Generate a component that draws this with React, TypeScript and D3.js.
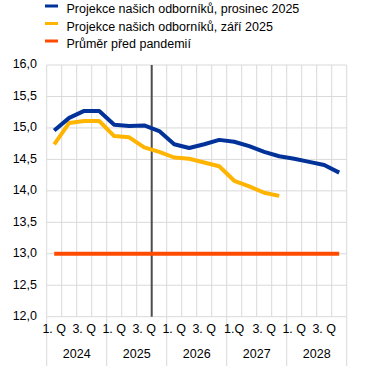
import React from "react";
import * as d3 from "d3";

// quarters 2024Q1 .. 2028Q4
const years = ["2024", "2025", "2026", "2027", "2028"];
const quarterTicks = [
  "1. Q", "", "3. Q", "",
  "1. Q", "", "3. Q", "",
  "1. Q", "", "3. Q", "",
  "1.Q", "", "3. Q", "",
  "1. Q", "", "3. Q", "",
];
const quarters = years.flatMap((y) => [1, 2, 3, 4].map((q) => `${y}Q${q}`));

const december2025 = [
  14.96, 15.16, 15.27, 15.27, 15.05, 15.03, 15.04, 14.95,
  14.74, 14.68, 14.74, 14.81, 14.78, 14.71, 14.62, 14.55,
  14.51, 14.46, 14.41, 14.29,
];
const september2025 = [
  14.74, 15.08, 15.11, 15.11, 14.87, 14.85, 14.69, 14.62,
  14.53, 14.51, 14.45, 14.39, 14.16, 14.07, 13.97, 13.92,
];
const prePandemic = quarters.map(() => 13.0);

const yTicks = [12, 12.5, 13, 13.5, 14, 14.5, 15, 15.5, 16];

const legendItems = [
  { label: "Projekce našich odborníků, prosinec 2025", color: "#003299" },
  { label: "Projekce našich odborníků, září 2025", color: "#FFB400" },
  { label: "Průměr před pandemií", color: "#FF4B00" },
];

const W = 367;
const H = 368;
const margin = { left: 46.7, right: 20.3, top: 65, bottom: 51.3 };

export default function App() {
  const x = d3
    .scaleBand<string>()
    .domain(quarters)
    .range([margin.left, W - margin.right]);
  const y = d3
    .scaleLinear()
    .domain([12, 16])
    .range([H - margin.bottom, margin.top]);
  const cx = (i: number) => (x(quarters[i]) as number) + x.bandwidth() / 2;

  const line = d3
    .line<number>()
    .x((_, i) => cx(i))
    .y((d) => y(d));

  const plotBottom = H - margin.bottom;
  const cutoff = x("2025Q4") as number;
  const font = "'Liberation Sans', Arial, sans-serif";

  return (
    <svg
      width={W}
      height={H}
      style={{ position: "absolute", left: 0, top: 0, fontFamily: font }}
    >
      {/* legend */}
      {legendItems.map((it, i) => (
        <g key={it.label} transform={`translate(0,${6 + i * 17.5})`}>
          <line x1={45} x2={58} y1={0} y2={0} stroke={it.color} strokeWidth={3} />
          <text x={66.5} y={4} fontSize={12.5} dominantBaseline="middle" fill="#000">
            {it.label}
          </text>
        </g>
      ))}

      {/* grid */}
      {yTicks.map((t) => (
        <line
          key={t}
          x1={margin.left}
          x2={W - margin.right}
          y1={y(t)}
          y2={y(t)}
          stroke="#d9d9d9"
          strokeWidth={1}
        />
      ))}
      {[...quarters.map((q) => x(q) as number), W - margin.right].map((gx, i) => (
        <line
          key={i}
          x1={gx}
          x2={gx}
          y1={margin.top}
          y2={plotBottom}
          stroke="#d9d9d9"
          strokeWidth={1}
        />
      ))}

      {/* year separators under axis */}
      {[...years.map((yr) => x(`${yr}Q1`) as number), W - margin.right].map((gx, i) => (
        <line
          key={i}
          x1={gx}
          x2={gx}
          y1={plotBottom}
          y2={H - 2}
          stroke="#d9d9d9"
          strokeWidth={1}
        />
      ))}

      {/* y tick labels */}
      {yTicks.map((t) => (
        <text
          key={t}
          x={37}
          y={y(t)}
          textAnchor="end"
          dominantBaseline="middle"
          fontSize={12.5}
          fill="#000"
        >
          {d3.format(".1f")(t).replace(".", ",")}
        </text>
      ))}

      {/* x tick labels */}
      {quarterTicks.map((lbl, i) =>
        lbl ? (
          <text
            key={i}
            x={cx(i)}
            y={plotBottom + 13}
            textAnchor="middle"
            dominantBaseline="middle"
            fontSize={12.5}
            fill="#000"
          >
            {lbl}
          </text>
        ) : null
      )}
      {years.map((yr) => (
        <text
          key={yr}
          x={(x(`${yr}Q1`) as number) + x.bandwidth() * 2}
          y={plotBottom + 38}
          textAnchor="middle"
          dominantBaseline="middle"
          fontSize={12.5}
          fill="#000"
        >
          {yr}
        </text>
      ))}

      {/* cutoff line */}
      <line
        x1={cutoff}
        x2={cutoff}
        y1={margin.top}
        y2={plotBottom}
        stroke="#4d4d4d"
        strokeWidth={2}
      />

      {/* series */}
      <path d={line(prePandemic) ?? ""} fill="none" stroke="#FF4B00" strokeWidth={4} />
      <path d={line(september2025) ?? ""} fill="none" stroke="#FFB400" strokeWidth={4} strokeLinejoin="round" />
      <path d={line(december2025) ?? ""} fill="none" stroke="#003299" strokeWidth={4} strokeLinejoin="round" />
    </svg>
  );
}
